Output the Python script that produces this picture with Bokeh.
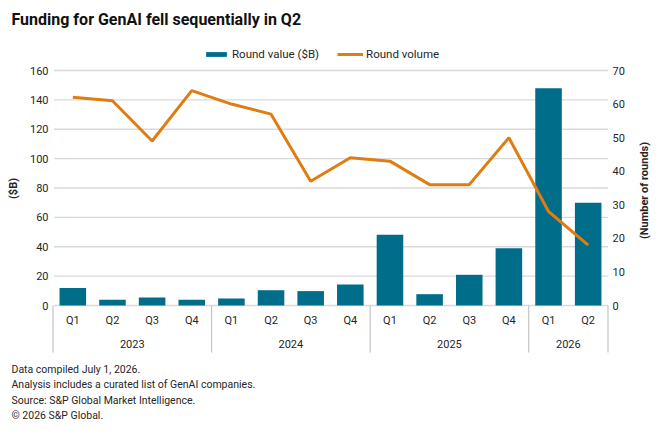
import math
from bokeh.plotting import figure
from bokeh.models import (FactorRange, Range1d, Legend, LegendItem, Label,
                          ColumnDataSource)
from bokeh.core.properties import value
from bokeh.embed import file_html
from bokeh.resources import INLINE

# ---------------- data ----------------
years = ["2023", "2024", "2025", "2026"]
quarters_per_year = [["Q1", "Q2", "Q3", "Q4"], ["Q1", "Q2", "Q3", "Q4"],
                     ["Q1", "Q2", "Q3", "Q4"], ["Q1", "Q2"]]
round_value = [12, 4, 5.5, 4, 4.8, 10.4, 9.8, 14.3, 48.1, 7.7, 20.9, 39, 148, 70]
round_volume = [62, 61, 49, 64, 60, 57, 37, 44, 43, 36, 36, 50, 28, 18]
left_ticks = [0, 20, 40, 60, 80, 100, 120, 140, 160]
right_ticks = [0, 10, 20, 30, 40, 50, 60, 70]
left_title = "($B)"
right_title = "(Number of rounds)"
series_names = ["Round value ($B)", "Round volume"]
title_text = "Funding for GenAI fell sequentially in Q2"
notes = ["Data compiled July 1, 2026.",
         "Analysis includes a curated list of GenAI companies.",
         "Source: S&P Global Market Intelligence.",
         "\u00a9 2026 S&P Global."]

# ---------------- style / layout ----------------
TEAL = "#006D8A"
ORANGE = "#E07C12"
GRID = "#D9D9D9"
DIV = "#C4C4C4"
TXT = "#262626"
FONT = "Roboto"
W, H = 660, 431
PLOT_L, PLOT_R = 52.5, 607.5     # pixel edges of the category band
PLOT_TOP, PLOT_ZERO = 70, 305    # pixel rows of the max tick and of zero
LMAX, RMAX = 160, 70

factors = [(y, q) for y, qs in zip(years, quarters_per_year) for q in qs]
n = len(factors)
fw = (PLOT_R - PLOT_L) / n                                 # px per factor
pad = PLOT_L / fw                                          # padding per side, factor units

ppu = (PLOT_ZERO - PLOT_TOP) / LMAX                        # px per left unit
y_lo = -(H - PLOT_ZERO) / ppu
y_hi = LMAX + PLOT_TOP / ppu


def yv(py):
    """pixel row -> left-axis value"""
    return (PLOT_ZERO - py) / ppu


def first_off(px):
    return (factors[0][0], factors[0][1], -0.5 + (px - PLOT_L) / fw)


def last_off(px):
    return (factors[-1][0], factors[-1][1], 0.5 + (px - PLOT_R) / fw)


p = figure(width=W, height=H, output_backend="svg", toolbar_location=None,
           x_range=FactorRange(*factors, group_padding=0, factor_padding=0,
                               range_padding=pad, range_padding_units="absolute"),
           y_range=Range1d(y_lo, y_hi),
           x_axis_location=None, y_axis_location=None,
           min_border=0, min_border_left=0, min_border_right=0,
           min_border_top=0, min_border_bottom=0)
p.extra_y_ranges = {"r": Range1d(y_lo * RMAX / LMAX, y_hi * RMAX / LMAX)}
p.outline_line_color = None
p.xgrid.visible = False
p.ygrid.visible = False

# grid lines (left axis ticks)
gsrc = ColumnDataSource(dict(x0=[first_off(PLOT_L + 1)] * len(left_ticks),
                             x1=[last_off(PLOT_R)] * len(left_ticks),
                             y=left_ticks))
p.segment(x0="x0", y0="y", x1="x1", y1="y", source=gsrc,
          line_color=GRID, line_width=1.3)

src = ColumnDataSource(dict(x=factors, v=round_value, n=round_volume,
                            q=[f[1] for f in factors]))
bars = p.vbar(x="x", top="v", bottom=0, width=0.67, source=src,
              fill_color=TEAL, line_color=None)
line = p.line(x="x", y="n", source=src, y_range_name="r",
              line_color=ORANGE, line_width=3)

# left tick labels
lsrc = ColumnDataSource(dict(x=[first_off(48)] * len(left_ticks), y=left_ticks,
                             t=[str(t) for t in left_ticks]))
p.text(x="x", y="y", text="t", source=lsrc, text_align="right",
       text_baseline="middle", text_font=value(FONT), text_font_size="11px",
       text_color=TXT)
# right tick labels
rsrc = ColumnDataSource(dict(x=[last_off(612)] * len(right_ticks), y=right_ticks,
                             t=[str(t) for t in right_ticks]))
p.text(x="x", y="y", text="t", source=rsrc, y_range_name="r", text_align="left",
       text_baseline="middle", text_font=value(FONT), text_font_size="11px",
       text_color=TXT)

# quarter and year labels
p.text(x="x", y=yv(320), text="q", source=src, text_align="center",
       text_baseline="middle", text_font=value(FONT), text_font_size="11px",
       text_color=TXT)
ysrc = ColumnDataSource(dict(x=years, y=[yv(343)] * len(years), t=years))
p.text(x="x", y="y", text="t", source=ysrc, text_align="center",
       text_baseline="middle", text_font=value(FONT), text_font_size="11px",
       text_color=TXT)

# group dividers
div_x = [(y, qs[0], -0.5) for y, qs in zip(years, quarters_per_year)]
div_x.append((years[-1], quarters_per_year[-1][-1], 0.5))
dsrc = ColumnDataSource(dict(x=div_x, y0=[0] * len(div_x),
                             y1=[yv(352)] * len(div_x)))
p.segment(x0="x", y0="y0", x1="x", y1="y1", source=dsrc,
          line_color=DIV, line_width=1.2)

# axis titles
p.add_layout(Label(x=13, y=H - 188, x_units="screen", y_units="screen",
                   text=left_title, angle=math.pi / 2, text_align="center",
                   text_baseline="middle", text_font=FONT, text_font_style="bold",
                   text_font_size="11px", text_color=TXT))
p.add_layout(Label(x=644, y=H - 190, x_units="screen", y_units="screen",
                   text=right_title, angle=math.pi / 2, text_align="center",
                   text_baseline="middle", text_font=FONT, text_font_style="bold",
                   text_font_size="11px", text_color=TXT))

# legend
legend = Legend(items=[LegendItem(label=series_names[0], renderers=[bars]),
                       LegendItem(label=series_names[1], renderers=[line])],
                orientation="horizontal", location=(203, H - 61),
                label_text_font=FONT, label_text_font_size="11.5px",
                label_text_color=TXT, glyph_width=26, glyph_height=6,
                spacing=18, label_standoff=3, border_line_color=None,
                background_fill_alpha=0, margin=0, padding=4,
                label_height=12)
p.add_layout(legend)

# title
p.add_layout(Label(x=11, y=H - 19, x_units="screen", y_units="screen",
                   text=title_text, text_font=FONT, text_font_style="bold",
                   text_font_size="16px", text_color="#111111",
                   text_baseline="middle"))

# footnotes
for i, t in enumerate(notes):
    p.add_layout(Label(x=11, y=H - (369 + 15.3 * i), x_units="screen", y_units="screen",
                       text=t, text_font=FONT, text_font_size="10.5px",
                       text_color=TXT, text_baseline="middle"))

open("out.html", "w").write(file_html(p, INLINE))
